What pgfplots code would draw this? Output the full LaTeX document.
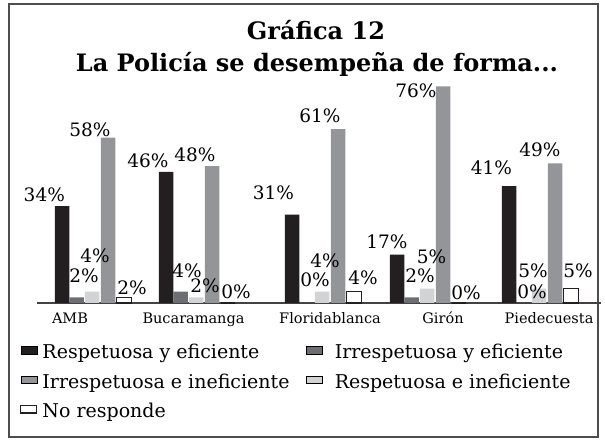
\documentclass[border=0pt]{standalone}
\usepackage{fontspec}
\setmainfont{DejaVu Serif}
\usepackage{pgfplots}
\usepackage{pgfplotstable}
\pgfplotsset{compat=1.18}

\definecolor{cnegro}{HTML}{231F20}
\definecolor{coscuro}{HTML}{6D6E71}
\definecolor{cmedio}{HTML}{939598}
\definecolor{cclaro}{HTML}{D1D3D4}
\definecolor{cmarco}{HTML}{4D4D4F}

\pgfplotsset{
    imgcorta/.style={legend image code/.code={\draw[##1,/tikz/.cd] (0pt,0pt) rectangle (16pt,7.5pt);}},
    imglarga/.style={legend image code/.code={\draw[##1,/tikz/.cd] (0pt,0pt) rectangle (16pt,7.5pt); \path (24pt,0pt);}},
}

% x = centro del grupo, y = porcentaje, dx/dy = posicion de la etiqueta respecto al grupo
\pgfplotstableread{
x   y  dx    dy
92  34 -47.7 4
196 46 -48   4
322 31 -48.5 15
427 17 -40   6
539 41 -47.5 11
}\respef
\pgfplotstableread{
x   y  dx  dy
92  2  -8  14.3
196 4  -9  13.6
322 0  -7  16
427 2  -7  14.3
539 0  -7  4
}\irrespef
\pgfplotstableread{
x   y  dx  dy
92  58 -2  1
196 48 -1  4
322 61 -2  6
427 76 -11 -12
539 49 1   6
}\irrespinef
\pgfplotstableread{
x   y  dx  dy
92  4  3   28.6
196 2  9   4.3
322 4  3   23.6
427 5  4.5 24.75
539 5  -6  10.75
}\respinef
\pgfplotstableread{
x   y  dx  dy
92  2  40  2.3
196 0  40  4
322 4  41  6.6
427 0  39  3
539 5  39  10.75
}\noresp

\begin{document}
\begin{tikzpicture}
\path[use as bounding box] (0,0) rectangle (605pt,443pt);
\draw[cmarco, line width=1.3pt] (9pt,6pt) rectangle (598pt,439pt);

\node[font=\fontsize{24}{28}\selectfont\bfseries, anchor=base] at (316pt,403pt) {Gráfica 12};
\node[font=\fontsize{24}{28}\selectfont\bfseries, anchor=base] at (317pt,371pt) {La Policía se desempeña de forma...};

\begin{axis}[
    at={(37pt,140pt)}, anchor=south west,
    x=1pt, y=2.85pt,
    xmin=37, xmax=601, ymin=0, ymax=80,
    clip=false,
    axis y line=none,
    axis x line*=bottom,
    x axis line style={-, line width=1.2pt, color=cnegro!85},
    xtick={70,193.5,330,443,549},
    xticklabels={AMB,Bucaramanga,Floridablanca,Girón,Piedecuesta},
    major tick length=0pt,
    xtick style={draw=none},
    xticklabel style={font=\fontsize{14.5}{17}\selectfont, anchor=base, yshift=-21pt},
    /pgf/number format/assume math mode=true,
    bar width=14.5,
    point meta=\thisrow{y},
    nodes near coords={\pgfmathprintnumber{\pgfplotspointmeta}\%},
    visualization depends on={\thisrow{dx} \as \labdx},
    visualization depends on={\thisrow{dy} \as \labdy},
    nodes near coords style={anchor=south, inner sep=0pt, text=black,
        font=\fontsize{18.5}{20}\selectfont, xshift=\labdx pt, yshift=\labdy pt},
    legend columns=2,
    legend cell align=left,
    imgcorta,
    legend style={at={(-0.030,-0.178)}, anchor=north west, draw=none, fill=none,
        inner sep=0pt, row sep=9pt, font=\fontsize{19}{22}\selectfont,
        nodes={inner sep=1pt, text height=14pt, text depth=4.5pt},
        /tikz/every odd column/.append style={column sep=4pt},
        /tikz/every even column/.append style={column sep=15pt}},
]
\addplot[ybar, bar shift=-30pt, fill=cnegro, draw=none] table[x=x, y=y] {\respef};
\addlegendentry{Respetuosa y eficiente}
\addplot[ybar, bar shift=-15.5pt, fill=coscuro, draw=none, imglarga] table[x=x, y=y] {\irrespef};
\addlegendentry{Irrespetuosa y eficiente}
\addplot[ybar, bar shift=16pt, fill=cmedio, draw=none] table[x=x, y=y] {\irrespinef};
\addlegendentry{Irrespetuosa e ineficiente}
\addplot[ybar, bar shift=0pt, fill=cclaro, draw=none, imglarga] table[x=x, y=y] {\respinef};
\addlegendentry{Respetuosa e ineficiente}
\addplot[ybar, bar shift=32pt, fill=white, draw=cnegro, line width=1.2pt] table[x=x, y=y] {\noresp};
\addlegendentry{No responde}
\end{axis}
\end{tikzpicture}
\end{document}
